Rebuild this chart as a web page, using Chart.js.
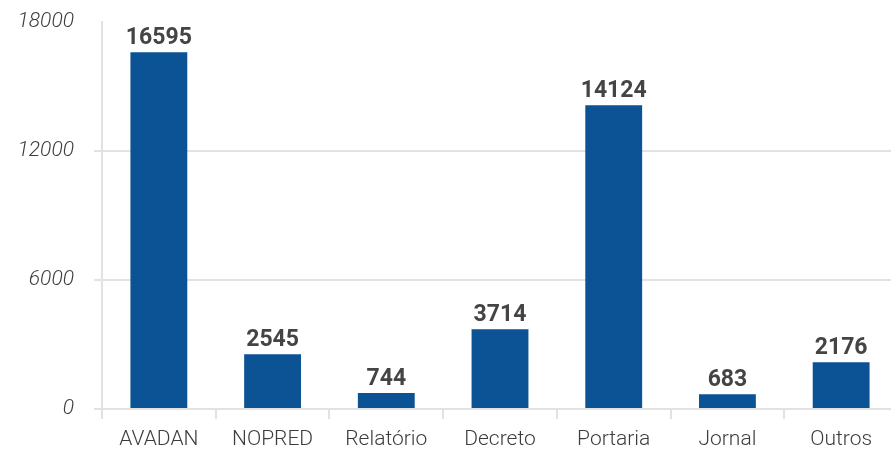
<!DOCTYPE html>
<html>
<head>
<meta charset="utf-8">
<script src="https://cdn.jsdelivr.net/npm/chart.js@4"></script>
<style>
  html, body { margin: 0; padding: 0; background: #fff; overflow: hidden; }
  #clip { width: 891px; height: 450px; overflow: hidden; }
  #wrap { width: 898px; height: 450px; }
</style>
</head>
<body>
<div id="clip"><div id="wrap"><canvas id="chart"></canvas></div></div>
<script>
const categories = ["AVADAN", "NOPRED", "Relatório", "Decreto", "Portaria", "Jornal", "Outros"];
const counts = [16595, 2545, 744, 3714, 14124, 683, 2176];
const yTicks = [0, 6000, 12000, 18000];

const BAR_COLOR = "#0b5394";
const TEXT_COLOR = "#3c3c3c";
const GRID_COLOR = "#e2e2e2";

// draws the value above each bar
const valueLabels = {
  id: "valueLabels",
  afterDatasetsDraw(chart) {
    const ctx = chart.ctx;
    const meta = chart.getDatasetMeta(0);
    ctx.save();
    ctx.font = "bold 23px Roboto";
    ctx.fillStyle = "#444444";
    ctx.textAlign = "center";
    ctx.textBaseline = "alphabetic";
    meta.data.forEach((bar, i) => {
      ctx.fillText(String(counts[i]), bar.x, bar.y - 8);
    });
    ctx.restore();
  }
};

new Chart(document.getElementById("chart"), {
  type: "bar",
  data: {
    labels: categories,
    datasets: [{
      data: counts,
      backgroundColor: BAR_COLOR,
      categoryPercentage: 1,
      barPercentage: 0.5
    }]
  },
  options: {
    responsive: true,
    maintainAspectRatio: false,
    animation: false,
    layout: { padding: 0 },
    plugins: {
      legend: { display: false },
      tooltip: { enabled: false }
    },
    scales: {
      x: {
        offset: true,
        afterFit(axis) {
          axis.height = 41;
        },
        grid: {
          offset: true,
          drawOnChartArea: false,
          color: GRID_COLOR,
          lineWidth: 2,
          tickLength: 10
        },
        border: { display: false },
        ticks: {
          color: TEXT_COLOR,
          font: { family: "Roboto", size: 21, weight: 300 },
          padding: 8
        }
      },
      y: {
        min: 0,
        max: 18000,
        afterBuildTicks(axis) {
          axis.ticks = yTicks.map((v) => ({ value: v }));
        },
        afterFit(axis) {
          axis.width = 102;
          axis.paddingTop = 22;
        },
        grid: {
          // no line across the top of the plot
          color: (c) => (c.tick && c.tick.value === 18000 ? "rgba(0,0,0,0)" : GRID_COLOR),
          lineWidth: 2,
          tickLength: 8
        },
        border: { color: GRID_COLOR, width: 2 },
        ticks: {
          color: TEXT_COLOR,
          font: { family: "Roboto", size: 21, style: "italic", weight: 300 },
          padding: 20,
          callback: (v) => String(v)
        }
      }
    }
  },
  plugins: [valueLabels]
});
</script>
</body>
</html>
